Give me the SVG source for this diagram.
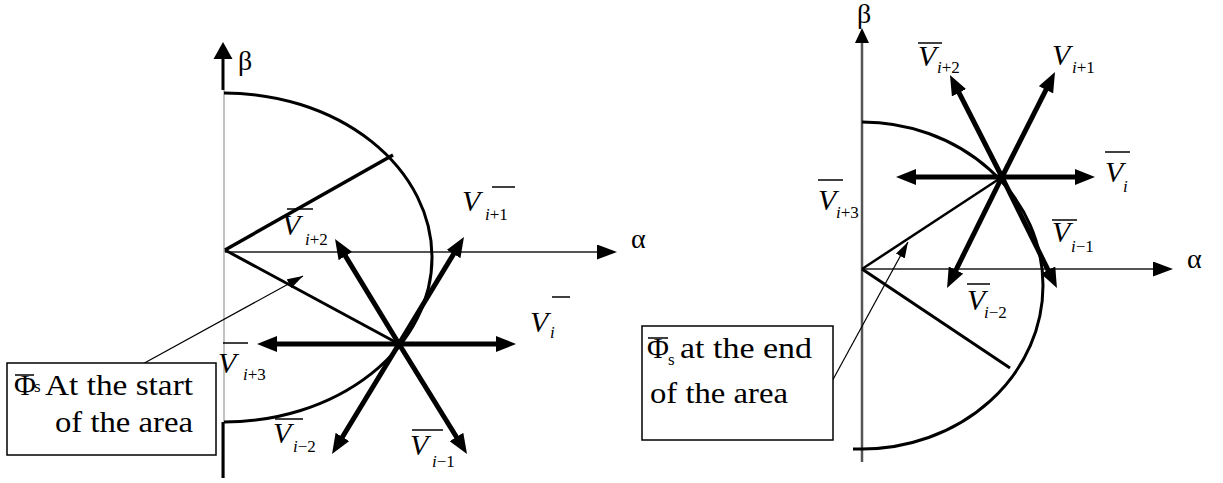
<svg xmlns="http://www.w3.org/2000/svg" width="1223" height="483" viewBox="0 0 1223 483" font-family="'Liberation Serif', 'Times New Roman', 'DejaVu Serif', serif">
<defs>
<style>
.vec{stroke:#000;stroke-width:5;fill:none;marker-end:url(#ah)}
.ln{stroke:#000;fill:none}
.ax{stroke:#555;stroke-width:2;fill:none}
.call{stroke:#000;stroke-width:1.2;fill:none;marker-end:url(#ch)}
.ob{stroke:#000;stroke-width:1.5}
text{font-family:'Liberation Serif','Times New Roman','DejaVu Serif',serif;fill:#000}
.V{font-style:italic;font-size:30px}
.sub{font-size:17px}
.gr{font-size:28px}
.bx{font-size:30px}
.box{fill:#fff;stroke:#000;stroke-width:1.5}
</style>
<marker id="ah" viewBox="0 0 20 16" refX="12" refY="8" markerWidth="20" markerHeight="16" markerUnits="userSpaceOnUse" orient="auto"><path d="M0,0 L20,8 L0,16 z" fill="#000"/></marker>
<marker id="axh" viewBox="0 0 20 15" refX="0" refY="7.5" markerWidth="20" markerHeight="15" markerUnits="userSpaceOnUse" orient="auto"><path d="M0,0 L20,7.5 L0,15 z" fill="#000"/></marker>
<marker id="ch" viewBox="0 0 16 10" refX="16" refY="5" markerWidth="16" markerHeight="10" markerUnits="userSpaceOnUse" orient="auto"><path d="M0,0 L16,5 L0,10 z" fill="#000"/></marker>
</defs>

<g id="left-diagram">
<g id="left-axes">
<line x1="224" y1="90" x2="224" y2="478" stroke="#999" stroke-width="1.2"/>
<line x1="223" y1="90" x2="223" y2="56" stroke="#000" stroke-width="3"/>
<polygon points="223,42 213.5,59 232.5,59" fill="#000"/>
<line x1="223" y1="422" x2="223" y2="478" stroke="#000" stroke-width="3"/>
<line class="ax" x1="225" y1="252" x2="597" y2="252" marker-end="url(#axh)"/>
<text class="gr" x="238" y="70">β</text>
<text class="gr" x="631" y="248">α</text>
</g>
<g id="left-locus">
<path class="ln" stroke-width="3" d="M224,93 A208,164.5 0 0 1 224,422"/>
<line class="ln" stroke-width="3.5" x1="225" y1="250" x2="393" y2="155"/>
<line class="ln" stroke-width="3" x1="225" y1="250" x2="399" y2="344"/>
</g>
<g id="left-vectors">
<line class="vec" x1="399" y1="344" x2="508" y2="344"/>
<line class="vec" x1="399" y1="344" x2="265" y2="344"/>
<line class="vec" x1="399" y1="344" x2="459.8" y2="243.8"/>
<line class="vec" x1="399" y1="344" x2="339.2" y2="245.8"/>
<line class="vec" x1="399" y1="344" x2="462.8" y2="447.2"/>
<line class="vec" x1="399" y1="344" x2="336.2" y2="447.2"/>
</g>
<g id="left-labels">
<text class="V" x="462" y="211">V</text><text class="sub" x="485" y="220"><tspan font-style="italic">i</tspan>+1</text><line class="ob" x1="492" y1="187" x2="515" y2="187"/>
<text class="V" x="282" y="235">V</text><text class="sub" x="305" y="245"><tspan font-style="italic">i</tspan>+2</text><line class="ob" x1="287" y1="209" x2="313" y2="209"/>
<text class="V" x="530" y="332">V</text><text class="sub" x="550" y="338" font-style="italic">i</text><line class="ob" x1="552" y1="297" x2="570" y2="297"/>
<text class="V" x="218" y="373">V</text><text class="sub" x="243" y="380"><tspan font-style="italic">i</tspan>+3</text><line class="ob" x1="223" y1="343" x2="248" y2="343"/>
<text class="V" x="273" y="443">V</text><text class="sub" x="293" y="452"><tspan font-style="italic">i</tspan>−2</text><line class="ob" x1="275" y1="419" x2="303" y2="419"/>
<text class="V" x="410" y="455">V</text><text class="sub" x="432" y="467"><tspan font-style="italic">i</tspan>−1</text><line class="ob" x1="412" y1="430" x2="443" y2="430"/>
</g>
<g id="left-callout">
<line class="call" x1="139" y1="366" x2="303" y2="276"/>
<rect class="box" x="7" y="363" width="209" height="92"/>
<text class="bx" x="14" y="395" font-size="22">Φ</text>
<line class="ob" x1="15" y1="375" x2="34" y2="375"/>
<text class="sub" x="34" y="392" font-size="10">s</text>
<text class="bx" x="45" y="395" textLength="148" lengthAdjust="spacingAndGlyphs">At the start</text>
<text class="bx" x="55" y="432" textLength="138" lengthAdjust="spacingAndGlyphs">of the area</text>
</g>
</g>

<g id="right-diagram">
<g id="right-axes">
<line x1="862" y1="40" x2="862" y2="462" stroke="#555" stroke-width="2.5"/>
<polygon points="862,28 855,43 869,43" fill="#000"/>
<line class="ax" x1="862" y1="269" x2="1153" y2="269" marker-end="url(#axh)"/>
<text class="gr" x="857" y="23" font-size="24">β</text>
<text class="gr" x="1187" y="268">α</text>
</g>
<g id="right-locus">
<path class="ln" stroke-width="3" d="M862,122 A181,163.5 0 0 1 862,449 L853,449"/>
<line class="ln" stroke-width="2.5" x1="862" y1="269" x2="1002" y2="177"/>
<line class="ln" stroke-width="3" x1="862" y1="269" x2="1010" y2="368"/>
</g>
<g id="right-vectors">
<line class="vec" x1="1002" y1="177" x2="1087" y2="177"/>
<line class="vec" x1="1002" y1="177" x2="904" y2="177"/>
<line class="vec" x1="1002" y1="177" x2="1051.4" y2="79.1"/>
<line class="vec" x1="1002" y1="177" x2="953.6" y2="82.1"/>
<line class="vec" x1="1002" y1="177" x2="1053.4" y2="280.8"/>
<line class="vec" x1="1002" y1="177" x2="950.6" y2="280.8"/>
</g>
<g id="right-labels">
<text class="V" x="918" y="66">V</text><text class="sub" x="937" y="73"><tspan font-style="italic">i</tspan>+2</text><line class="ob" x1="918" y1="43" x2="942" y2="43"/>
<text class="V" x="1052" y="65">V</text><text class="sub" x="1072" y="73"><tspan font-style="italic">i</tspan>+1</text>
<text class="V" x="1105" y="182">V</text><text class="sub" x="1123" y="192" font-style="italic">i</text><line class="ob" x1="1105" y1="152" x2="1130" y2="152"/>
<text class="V" x="1052" y="242">V</text><text class="sub" x="1071" y="252"><tspan font-style="italic">i</tspan>−1</text><line class="ob" x1="1052" y1="220" x2="1077" y2="220"/>
<text class="V" x="967" y="310">V</text><text class="sub" x="984" y="318"><tspan font-style="italic">i</tspan>−2</text><line class="ob" x1="967" y1="284" x2="990" y2="284"/>
<text class="V" x="818" y="210">V</text><text class="sub" x="836" y="218"><tspan font-style="italic">i</tspan>+3</text><line class="ob" x1="818" y1="180" x2="843" y2="180"/>
</g>
<g id="right-callout">
<line class="call" x1="830" y1="385" x2="908" y2="242"/>
<rect class="box" x="642" y="326" width="191" height="114"/>
<text class="bx" x="647" y="358" font-size="22">Φ</text>
<line class="ob" x1="648" y1="338" x2="668" y2="338"/>
<text class="sub" x="668" y="365" font-size="10">s</text>
<text class="bx" x="680" y="358" textLength="132" lengthAdjust="spacingAndGlyphs">at the end</text>
<text class="bx" x="650" y="403" textLength="138" lengthAdjust="spacingAndGlyphs">of the area</text>
</g>
</g>
</svg>
